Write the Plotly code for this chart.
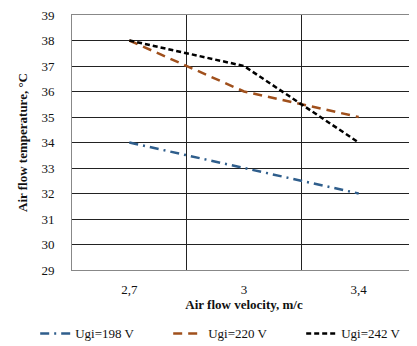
import plotly.graph_objects as go

categories = ["2,7", "3", "3,4"]
u198 = [34, 33, 32]
u220 = [38, 36, 35]
u242 = [38, 37, 34]
names = ["Ugi=198 V", "Ugi=220 V", "Ugi=242 V"]

fig = go.Figure()
fig.add_trace(go.Scatter(x=categories, y=u198, mode="lines", name=names[0],
                         line=dict(color="#2F5E8C", width=2.5, dash="9px,5px,2px,5px")))
fig.add_trace(go.Scatter(x=categories, y=u220, mode="lines", name=names[1],
                         line=dict(color="#A0501C", width=2.5, dash="9px,6px")))
fig.add_trace(go.Scatter(x=categories, y=u242, mode="lines", name=names[2],
                         line=dict(color="#000000", width=2.5, dash="5px,3px")))

font = "Liberation Serif, Times New Roman, serif"
fig.update_layout(
    width=409, height=338,
    margin=dict(l=64, r=1, t=7, b=76, autoexpand=False),
    paper_bgcolor="white", plot_bgcolor="white",
    font=dict(family=font, size=13, color="#111"),
    showlegend=True,
    legend=dict(orientation="h", x=-0.107, xanchor="left",
                y=-0.19, yanchor="top", font=dict(size=13),
                entrywidth=88, entrywidthmode="pixels", traceorder="normal"),
    xaxis=dict(type="category", tickson="boundaries", range=[-0.5, 2.5], showgrid=True,
               gridcolor="#222", gridwidth=1, showline=True, linecolor="#888", mirror=True,
               ticks="", ticklabelstandoff=7,
               title=dict(text="<b>Air flow velocity, m/c</b>", font=dict(size=13), standoff=4)),
    yaxis=dict(range=[29, 39], dtick=1, showgrid=True, gridcolor="#222", gridwidth=1,
               showline=True, linecolor="#888", mirror=True, ticks="", zeroline=False,
               ticklabelstandoff=14, ticklabeloverflow="allow",
               title=dict(text="<b>Air flow temperature, °C</b>", font=dict(size=13), standoff=10)),
)
fig.write_html("out.html")
